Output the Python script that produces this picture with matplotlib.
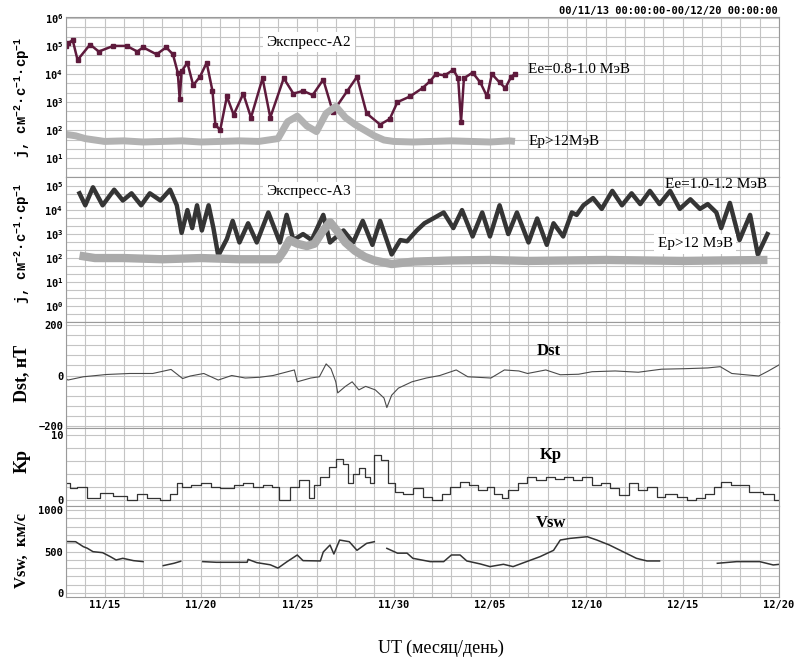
import numpy as np
import matplotlib
matplotlib.use("Agg")
import matplotlib.pyplot as plt
from matplotlib import ticker as mticker

# time axis: days since 2000-11-13 00:00 UT
day_ticks = [2, 7, 12, 17, 22, 27, 32, 37]
day_labels = ["11/15", "11/20", "11/25", "11/30", "12/05", "12/10", "12/15", "12/20"]

# Экспресс-А2, electrons 0.8-1.0 MeV, log10(j)
a2_ee_t = [0.0, 0.1, 0.35, 0.6, 1.25, 1.7, 2.45, 3.15, 3.7, 4.0,
           4.7, 5.2, 5.55, 5.8, 5.9, 6.0, 6.3, 6.6, 6.95, 7.3,
           7.6, 7.75, 8.0, 8.35, 8.7, 9.2, 9.6, 10.2, 10.6, 11.3,
           11.8, 12.3, 12.8, 13.35, 13.85, 14.6, 15.1, 15.6, 16.3, 16.8,
           17.2, 17.85, 18.5, 18.9, 19.2, 19.65, 20.1, 20.35, 20.5, 20.65,
           21.1, 21.5, 21.85, 22.1, 22.5, 22.8, 23.1, 23.3]
a2_ee_log = [5.0, 5.1, 5.2, 4.5, 5.05, 4.8, 5.0, 5.0, 4.8, 4.95,
             4.7, 4.95, 4.7, 4.05, 3.1, 4.1, 4.4, 3.6, 3.9, 4.4,
             3.4, 2.2, 2.0, 3.2, 2.55, 3.3, 2.45, 3.85, 2.45, 3.85,
             3.3, 3.4, 3.25, 3.8, 2.65, 3.4, 3.9, 2.6, 2.2, 2.4,
             3.0, 3.2, 3.5, 3.75, 4.0, 3.95, 4.15, 3.85, 2.3, 3.85,
             4.05, 3.7, 3.2, 4.0, 3.7, 3.5, 3.9, 4.0]

# Экспресс-А2, protons >12 MeV
a2_ep_t = [0, 0.5, 1, 1.5, 2, 3, 4, 5, 6, 7,
           8, 9, 10, 11, 11.5, 12, 12.5, 13, 13.5, 14,
           14.5, 15, 15.5, 16, 16.5, 17, 18, 19, 20, 21,
           22, 23, 23.3]
a2_ep_log = [1.85, 1.8, 1.7, 1.65, 1.6, 1.62, 1.58, 1.6, 1.62, 1.58,
             1.6, 1.62, 1.6, 1.7, 2.3, 2.5, 2.15, 1.95, 2.6, 2.85,
             2.45, 2.2, 2.0, 1.8, 1.65, 1.6, 1.58, 1.6, 1.62, 1.6,
             1.58, 1.62, 1.6]

# Экспресс-А3, electrons 1.0-1.2 MeV
a3_ee_t = [0.7, 1.0, 1.4, 1.9, 2.5, 2.95, 3.4, 3.9, 4.35, 4.9,
           5.4, 5.75, 6.0, 6.3, 6.55, 6.8, 7.05, 7.4, 7.65, 7.9,
           8.35, 8.65, 9.0, 9.45, 9.9, 10.5, 11.1, 11.45, 11.8, 12.3,
           12.75, 13.35, 13.7, 14.4, 14.9, 15.4, 15.9, 16.3, 16.9, 17.35,
           17.7, 18.2, 18.6, 19.05, 19.6, 20.1, 20.55, 21.1, 21.6, 22.0,
           22.5, 22.95, 23.4, 24.0, 24.45, 24.95, 25.3, 25.8, 26.25, 26.5,
           26.85, 27.35, 27.8, 28.35, 28.85, 29.35, 29.8, 30.3, 30.8, 31.35,
           31.85, 32.4, 32.9, 33.3, 33.75, 34.0, 34.45, 34.95, 35.5, 35.9,
           36.4]
a3_ee_log = [4.7, 4.2, 4.95, 4.2, 4.85, 4.4, 4.7, 4.2, 4.7, 4.4,
             4.85, 4.2, 3.05, 4.0, 3.25, 4.2, 3.15, 4.2, 3.25, 2.1,
             2.8, 3.55, 2.65, 3.45, 2.65, 3.9, 2.65, 3.8, 2.75, 3.0,
             2.75, 3.8, 2.65, 3.15, 2.65, 3.55, 2.55, 3.55, 2.15, 2.75,
             2.7, 3.15, 3.45, 3.65, 3.9, 3.25, 4.0, 2.9, 3.9, 2.9,
             4.2, 3.0, 3.9, 2.65, 3.65, 2.55, 3.45, 2.9, 3.9, 3.8,
             4.2, 4.5, 4.05, 4.8, 4.2, 4.7, 4.25, 4.8, 4.25, 4.8,
             4.05, 4.45, 4.05, 4.25, 3.9, 3.25, 4.3, 2.75, 3.8, 2.15,
             3.0]

# Экспресс-А3, protons >12 MeV
a3_ep_t = [0.7, 1.5, 3, 5, 7, 9, 10, 11, 11.3, 11.6,
           12.0, 12.5, 12.9, 13.3, 13.7, 14.1, 14.5, 15.0, 15.5, 16.0,
           16.9, 18, 20, 22, 24, 26, 28, 30, 32, 34,
           36.4]
a3_ep_log = [2.1, 2.0, 2.0, 1.95, 2.0, 1.95, 1.95, 1.95, 2.3, 2.75,
             2.6, 2.5, 2.6, 3.1, 3.5, 3.1, 2.65, 2.3, 2.05, 1.9,
             1.75, 1.85, 1.9, 1.92, 1.88, 1.9, 1.92, 1.9, 1.88, 1.9,
             1.92]

# Dst, nT
dst_t = [0, 0.1, 0.9, 2.1, 3.3, 4.5, 5.45, 6.05, 6.45, 7.15,
         7.9, 8.6, 9.3, 10.05, 10.75, 11.5, 11.85, 12.0, 12.7, 13.15,
         13.5, 13.75, 14.0, 14.1, 14.5, 14.85, 15.2, 15.55, 16.05, 16.5,
         16.65, 16.9, 17.25, 17.95, 18.7, 19.4, 20.25, 20.85, 22.05, 22.75,
         23.5, 23.95, 24.9, 25.65, 26.6, 27.3, 28.5, 29.7, 30.9, 32.1,
         33.3, 33.95, 34.55, 35.25, 35.95, 36.45, 37.0]
dst = [-12, -18, -5, 4, 8, 8, 24, -12, -2, 8,
       -18, 0, -10, -7, 0, 15, 22, -25, -10, -5,
       46, 27, -25, -69, -43, -25, -57, -43, -57, -89,
       -127, -78, -50, -25, -10, 0, 22, -5, -10, 22,
       18, 8, 22, 3, 5, 15, 18, 13, 25, 27,
       30, 35, 8, 3, -2, 18, 42]

# Kp (step starts)
kp_t = [0, 0.2, 0.55, 1.1, 1.75, 2.45, 3.15, 3.7, 4.2, 4.9,
        5.4, 5.75, 6.0, 6.5, 7.0, 7.5, 8.0, 8.7, 9.2, 9.7,
        10.2, 10.7, 11.05, 11.6, 12.1, 12.6, 12.85, 13.2, 13.65, 14.0,
        14.4, 14.65, 14.9, 15.2, 15.5, 15.75, 16.0, 16.35, 16.7, 17.05,
        17.5, 18.0, 18.5, 19.0, 19.5, 19.95, 20.45, 20.9, 21.4, 21.85,
        22.2, 22.6, 22.95, 23.45, 23.9, 24.4, 24.9, 25.35, 25.85, 26.3,
        26.8, 27.3, 27.75, 28.25, 28.7, 29.2, 29.7, 30.15, 30.65, 31.1,
        31.7, 32.2, 32.7, 33.15, 33.65, 34.0, 34.5, 35.0, 35.45, 36.15,
        36.75, 37.0]
kp = [2.6, 1.8, 2.1, 0.3, 1.1, 0.6, 0.0, 1.0, 0.3, 0.0,
      1.0, 2.6, 2.0, 2.3, 2.6, 2.0, 1.8, 2.3, 2.6, 2.0,
      2.3, 2.0, 0.0, 2.1, 3.1, 0.3, 2.3, 3.6, 5.1, 6.4,
      5.6, 2.6, 4.1, 4.9, 3.6, 2.6, 6.9, 6.2, 2.6, 1.3,
      1.0, 1.8, 0.5, 0.0, 1.0, 2.1, 2.8, 2.3, 1.5, 2.1,
      1.0, 0.3, 1.5, 2.6, 3.6, 3.1, 3.6, 3.3, 3.6, 3.1,
      3.6, 2.3, 2.6, 1.8, 0.8, 2.6, 1.5, 2.1, 0.5, 1.0,
      0.5, 0.0, 0.3, 1.0, 2.1, 2.8, 2.3, 2.3, 1.3, 1.0,
      0.0, 0.0]

# solar wind speed, km/s (nan = data gap)
nan = float("nan")
vsw_t = [0.0, 0.5, 0.9, 1.1, 1.4, 1.9, 2.3, 2.6, 2.95, 3.5,
         4.0, 4.5, 5.05, 5.6, 5.95, 6.5, 7.1, 7.8, 8.7, 9.4,
         9.45, 9.9, 10.6, 11.0, 11.45, 12.0, 12.3, 13.2, 13.35, 13.7,
         13.9, 14.2, 14.7, 15.1, 15.6, 16.0, 16.3, 16.65, 17.2, 17.7,
         18.0, 18.9, 19.6, 20.0, 20.45, 20.8, 21.5, 22.0, 22.7, 23.2,
         23.9, 24.6, 25.3, 25.65, 26.15, 27.05, 27.55, 28.2, 28.9, 29.6,
         30.15, 30.8, 32.0, 33.8, 34.8, 36.0, 36.7, 37.0]
vsw = [620, 618, 558, 540, 498, 486, 438, 398, 418, 390,
       378, nan, 330, 358, 382, nan, 378, 370, 370, 370,
       405, 366, 340, 300, 374, 458, 390, 386, 494, 578,
       470, 638, 618, 514, 598, 618, nan, 538, 480, 480,
       418, 378, 378, 458, 458, 386, 350, 318, 346, 318,
       378, 438, 514, 638, 658, 678, 638, 578, 498, 418,
       386, 386, nan, 358, 378, 378, 338, 345]

a2_ticks = [1e1, 1e2, 1e3, 1e4, 1e5, 1e6]
a2_labels = ["10$^1$", "10$^2$", "10$^3$", "10$^4$", "10$^5$", "10$^6$"]
a3_ticks = [1e0, 1e1, 1e2, 1e3, 1e4, 1e5]
a3_labels = ["10$^0$", "10$^1$", "10$^2$", "10$^3$", "10$^4$", "10$^5$"]

plt.rcParams["font.family"] = "DejaVu Sans Mono"
plt.rcParams["font.weight"] = "bold"
plt.rcParams["mathtext.default"] = "regular"

W, H = 797, 659
fig = plt.figure(figsize=(W / 100, H / 100), dpi=100)


def make_axes(top, bottom):
    ax = fig.add_axes([66 / W, 1 - bottom / H, 713 / W, (bottom - top) / H])
    ax.set_xlim(0, 37)
    ax.set_xticks(day_ticks)
    ax.set_xticks(np.arange(0, 38), minor=True)
    ax.grid(True, which="both", color="#c4c4c4", lw=0.8)
    ax.set_axisbelow(True)
    ax.tick_params(which="both", length=0, labelsize=7.5, pad=2)
    ax.tick_params(axis="x", labelbottom=False)
    for s in ax.spines.values():
        s.set_color("#9a9a9a")
    return ax


def log_minor(ax, lo, hi):
    minor = [10 ** (k + f) for k in range(lo, hi) for f in (1 / 3, 2 / 3)]
    ax.set_yticks(minor, minor=True)
    ax.yaxis.set_minor_formatter(mticker.NullFormatter())


serif = dict(family="Liberation Serif", weight="normal", size=11)
box = dict(facecolor="white", edgecolor="none", pad=2.5)

# panel 1: Экспресс-А2
ax1 = make_axes(17, 177)
ax1.set_yscale("log")
ax1.set_ylim(10 ** 0.87, 10 ** 6.03)
ax1.set_yticks(a2_ticks, labels=a2_labels)
log_minor(ax1, 0, 6)
ax1.plot(a2_ee_t, 10 ** np.array(a2_ee_log), color="#5e1a3c", lw=1.8,
         marker="s", ms=2.5)
ax1.plot(a2_ep_t, 10 ** np.array(a2_ep_log), color="#b2b2b2", lw=5,
         solid_capstyle="butt")
ax1.text(10.4, 10 ** 5.13, "Экспресс-А2", va="center", bbox=box, **serif)
ax1.text(24.0, 10 ** 4.16, "Ee=0.8-1.0 МэВ", va="center", **serif)
ax1.text(24.0, 10 ** 1.58, "Ep>12МэВ", va="center", **serif)

# panel 2: Экспресс-А3
ax2 = make_axes(177, 322)
ax2.set_yscale("log")
ax2.set_ylim(10 ** -0.19, 10 ** 5.38)
ax2.set_yticks(a3_ticks, labels=a3_labels)
log_minor(ax2, -1, 5)
ax2.plot(a3_ee_t, 10 ** np.array(a3_ee_log), color="#353535", lw=3.2)
ax2.plot(a3_ep_t, 10 ** np.array(a3_ep_log), color="#aaaaaa", lw=6,
         solid_capstyle="butt")
ax2.text(10.4, 10 ** 4.77, "Экспресс-А3", va="center", bbox=box, **serif)
ax2.text(36.4, 10 ** 5.08, "Ee=1.0-1.2 МэВ", va="center", ha="right", **serif)
ax2.text(30.7, 10 ** 2.6, "Ep>12 МэВ", va="center", bbox=box, zorder=5, **serif)

# panel 3: Dst
ax3 = make_axes(322, 428)
ax3.set_ylim(-208, 212)
ax3.set_yticks([-200, 0, 200])
ax3.set_yticks(np.arange(-200, 201, 40), minor=True)
ax3.plot(dst_t, dst, color="#4a4a4a", lw=0.8)
ax3.text(24.4, 96, "Dst", va="center", **dict(serif, weight="bold", size=12))

# panel 4: Kp
ax4 = make_axes(428, 506)
ax4.set_ylim(-0.9, 11.1)
ax4.set_yticks([0, 10])
ax4.set_yticks(np.arange(0, 11, 2), minor=True)
ax4.plot(kp_t, kp, color="#333333", lw=0.9, drawstyle="steps-post")
ax4.text(24.6, 6.9, "Kp", va="center", **dict(serif, weight="bold", size=12))

# panel 5: Vsw
ax5 = make_axes(506, 597)
ax5.set_ylim(-48, 1048)
ax5.set_yticks([0, 500, 1000])
ax5.set_yticks(np.arange(0, 1001, 100), minor=True)
ax5.plot(vsw_t, vsw, color="#333333", lw=1.1)
ax5.text(24.4, 843, "Vsw", va="center", **dict(serif, weight="bold", size=12))
ax5.tick_params(axis="x", labelbottom=True)
ax5.set_xticklabels(day_labels)

# axis titles and header
fig.text(778 / W, 1 - 11 / H, "00/11/13 00:00:00-00/12/20 00:00:00",
         ha="right", va="center", size=7.5)
jlabel = "j, см$^{-2}$·с$^{-1}$·ср$^{-1}$"
fig.text(22 / W, 1 - 97 / H, jlabel, rotation=90, ha="center", va="center",
         size=10, family="Liberation Mono")
fig.text(22 / W, 1 - 243 / H, jlabel, rotation=90, ha="center", va="center",
         size=10, family="Liberation Mono")
fig.text(22 / W, 1 - 373 / H, "Dst, нТ", rotation=90, ha="center",
         va="center", family="Liberation Serif", size=13)
fig.text(22 / W, 1 - 461 / H, "Kр", rotation=90, ha="center",
         va="center", family="Liberation Serif", size=13)
fig.text(22 / W, 1 - 550 / H, "Vsw,  км/с", rotation=90, ha="center",
         va="center", family="Liberation Serif", size=12)
fig.text(441 / W, 1 - 648 / H, "UT (месяц/день)", ha="center", va="center",
         family="Liberation Serif", weight="normal", size=13)

fig.savefig("out.png", dpi=100, facecolor="white")
